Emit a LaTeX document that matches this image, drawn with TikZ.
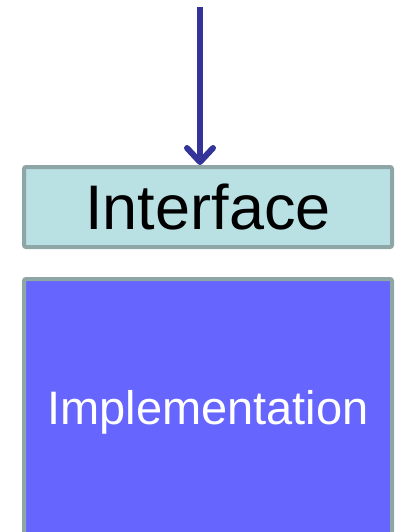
\documentclass[tikz,border=0pt]{standalone}
\usepackage{fontspec}
\setmainfont{Liberation Sans}
\usetikzlibrary{arrows.meta}

\definecolor{ifacefill}{HTML}{B9E0E3}
\definecolor{boxedge}{HTML}{8FA6A6}
\definecolor{implfill}{HTML}{6666FF}
\definecolor{callarrow}{HTML}{333399}

\tikzset{
  layerbox/.style={draw=boxedge, line width=4pt, rounded corners=2pt,
    minimum width=368pt, inner sep=0pt, anchor=center},
  callflow/.style={draw=callarrow, line width=6pt,
    -{Straight Barb[length=14pt, width=26pt, line cap=round, line join=round]}}
}

\begin{document}
\begin{tikzpicture}[x=1pt, y=-1pt]
  \useasboundingbox (0,0) rectangle (396,532);

  % interface layer
  \node[layerbox, fill=ifacefill, minimum height=80pt,
        font=\fontsize{63}{63}\selectfont] (iface) at (208,207) {Interface};

  % implementation layer, running past the lower edge
  \node[layerbox, fill=implfill, minimum height=266pt, text=white,
        font=\fontsize{47}{47}\selectfont] (impl) at (208,412) {Implementation};

  % incoming call
  \coordinate (caller) at (200,7);
  \draw[callflow] (caller) -- (iface.north -| caller);
\end{tikzpicture}
\end{document}
